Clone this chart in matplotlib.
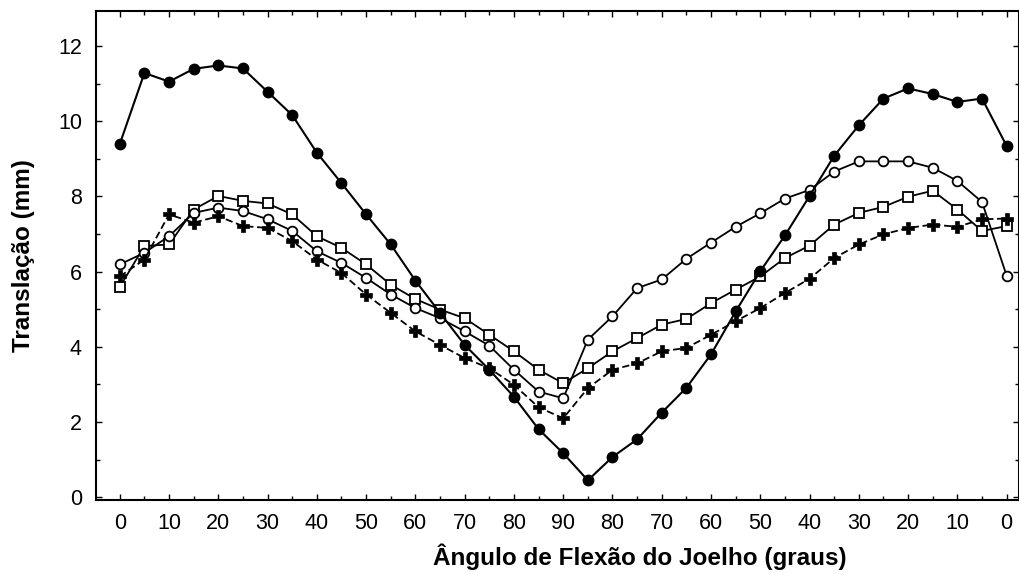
import numpy as np
import matplotlib
matplotlib.use("Agg")
import matplotlib.pyplot as plt
from matplotlib.ticker import MultipleLocator

plt.rcParams['font.family'] = ['Liberation Sans', 'DejaVu Sans']

# knee flexion angle, going down to 90 and back up to 0
angles = [0, 5, 10, 15, 20, 25, 30, 35, 40, 45, 50, 55, 60, 65, 70, 75, 80, 85, 90,
          85, 80, 75, 70, 65, 60, 55, 50, 45, 40, 35, 30, 25, 20, 15, 10, 5, 0]

filled_circle = [9.39, 11.28, 11.05, 11.39, 11.48, 11.40, 10.78, 10.16, 9.16, 8.35,
                 7.52, 6.72, 5.76, 4.90, 4.05, 3.39, 2.67, 1.81, 1.17,
                 0.45, 1.07, 1.54, 2.25, 2.91, 3.80, 4.94, 6.01, 6.96, 8.01,
                 9.08, 9.89, 10.60, 10.87, 10.72, 10.51, 10.60, 9.34]
open_circle = [6.19, 6.50, 6.94, 7.56, 7.70, 7.61, 7.39, 7.08, 6.54, 6.23,
               5.83, 5.39, 5.03, 4.76, 4.41, 4.03, 3.39, 2.81, 2.63,
               4.19, 4.81, 5.56, 5.79, 6.34, 6.77, 7.19, 7.55, 7.94, 8.17,
               8.66, 8.93, 8.93, 8.93, 8.76, 8.41, 7.85, 5.89]
open_square = [5.59, 6.68, 6.72, 7.65, 8.01, 7.88, 7.81, 7.52, 6.94, 6.63,
               6.19, 5.65, 5.27, 4.99, 4.76, 4.32, 3.88, 3.39, 3.03,
               3.43, 3.88, 4.23, 4.59, 4.74, 5.16, 5.52, 5.87, 6.36, 6.69,
               7.25, 7.56, 7.72, 7.99, 8.15, 7.65, 7.08, 7.21]
plus = [5.87, 6.32, 7.52, 7.30, 7.47, 7.21, 7.16, 6.81, 6.32, 5.96,
        5.39, 4.90, 4.41, 4.05, 3.70, 3.43, 2.99, 2.39, 2.10,
        2.90, 3.39, 3.56, 3.88, 3.97, 4.32, 4.68, 5.03, 5.43, 5.81,
        6.36, 6.72, 6.99, 7.16, 7.25, 7.19, 7.39, 7.41]

x = np.arange(len(angles))

fig = plt.figure(figsize=(10.2, 5.75), dpi=100)
ax = fig.add_axes([0.094, 0.130, 0.905, 0.851])

ax.plot(x, open_square, '-', color='black', lw=1.3, marker='s', ms=7,
        mfc='white', mec='black', mew=1.3)
ax.plot(x, open_circle, '-', color='black', lw=1.3, marker='o', ms=7,
        mfc='white', mec='black', mew=1.3)
ax.plot(x, plus, '--', color='black', lw=1.3, marker='P', ms=8,
        mfc='black', mec='black', mew=0.5, dashes=(4, 2))
ax.plot(x, filled_circle, '-', color='black', lw=1.5, marker='o', ms=7.5,
        mfc='black', mec='black')

ax.set_xlim(-0.97, 36.5)
ax.set_ylim(-0.08, 12.93)

ax.set_xticks(x[::2])
ax.set_xticklabels([str(a) for a in angles[::2]])
ax.xaxis.set_minor_locator(MultipleLocator(1))
ax.yaxis.set_major_locator(MultipleLocator(2))
ax.yaxis.set_minor_locator(MultipleLocator(1))
ax.tick_params(which='both', direction='in', top=True, right=True, labelsize=15.5,
               width=1)
ax.tick_params(which='major', length=4)
ax.tick_params(which='minor', length=3)
ax.tick_params(axis='x', pad=9)
ax.tick_params(axis='y', pad=10)

for s in ax.spines.values():
    s.set_linewidth(1.5)

ax.set_xlabel('Ângulo de Flexão do Joelho (graus)', fontsize=17.5, fontweight='bold')
ax.xaxis.set_label_coords(0.589, -0.089)
ax.set_ylabel('Translação (mm)', fontsize=17.5, fontweight='bold')
ax.yaxis.set_label_coords(-0.066, 0.5)

fig.savefig('out.png', dpi=100)
